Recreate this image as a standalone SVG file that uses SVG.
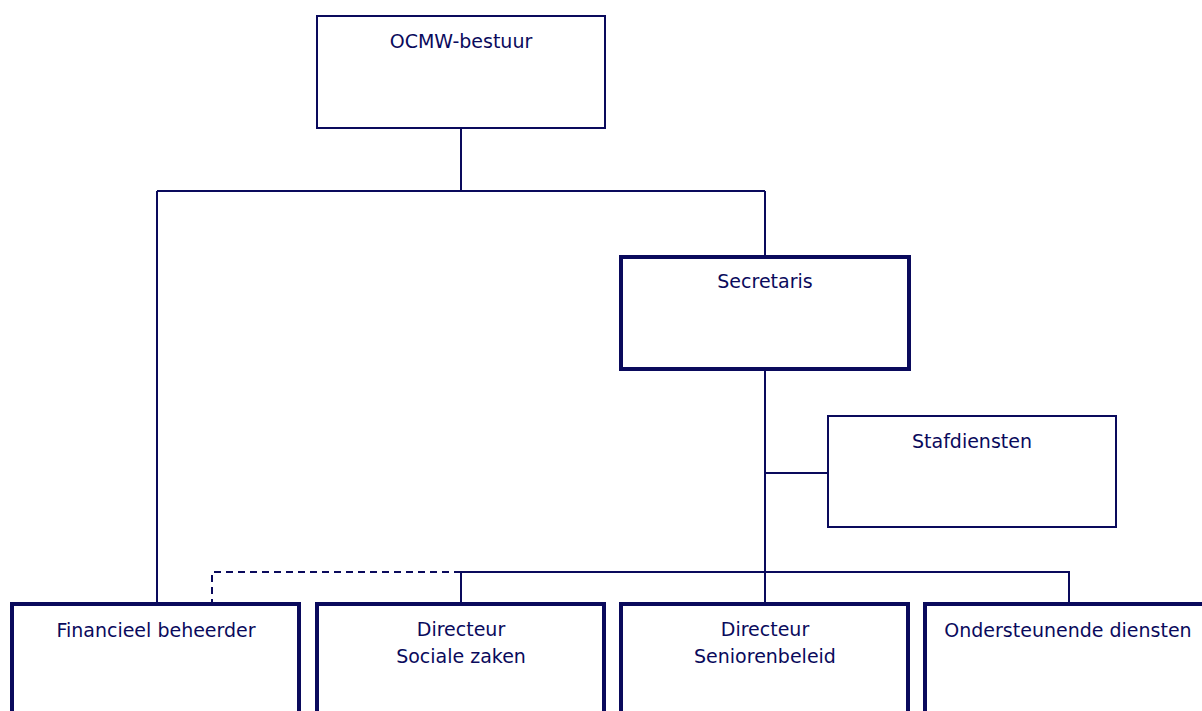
<svg xmlns="http://www.w3.org/2000/svg" width="1202" height="711" viewBox="0 0 1202 711">
<style>
.box{fill:#fff;stroke:#0a0a5c;stroke-width:2}
.thick{stroke-width:4}
.t{font-family:"DejaVu Sans",Verdana,sans-serif;font-size:19px;fill:#0a0a5c;text-anchor:middle}
.c{fill:none;stroke:#0a0a5c;stroke-width:2}
.d{stroke-dasharray:7,5}
</style>
<rect width="1202" height="711" fill="#fff"/>
<g id="connectors">
<path class="c" d="M461 128V191M157 191H765M157 191V604M765 191V257"/>
<path class="c" d="M765 369V604M765 473H828"/>
<path class="c" d="M461 572H1069V604M461 572V604"/>
<path class="c d" d="M461 572H212V604"/>
</g>
<g id="ocmw"><rect class="box" x="317" y="16" width="288" height="112"/><text class="t" x="461" y="48">OCMW-bestuur</text></g>
<g id="secretaris"><rect class="box thick" x="621" y="257" width="288" height="112"/><text class="t" x="765" y="288">Secretaris</text></g>
<g id="stafdiensten"><rect class="box" x="828" y="416" width="288" height="111"/><text class="t" x="972" y="448">Stafdiensten</text></g>
<g id="financieel"><rect class="box thick" x="12" y="604" width="287" height="160"/><text class="t" x="156" y="637">Financieel beheerder</text></g>
<g id="sociale"><rect class="box thick" x="317" y="604" width="287" height="160"/><text class="t" x="461" y="636">Directeur</text><text class="t" x="461" y="663">Sociale zaken</text></g>
<g id="senioren"><rect class="box thick" x="621" y="604" width="287" height="160"/><text class="t" x="765" y="636">Directeur</text><text class="t" x="765" y="663">Seniorenbeleid</text></g>
<g id="ondersteunende"><rect class="box thick" x="925" y="604" width="290" height="160"/><text class="t" x="1068" y="637">Ondersteunende diensten</text></g>
</svg>
